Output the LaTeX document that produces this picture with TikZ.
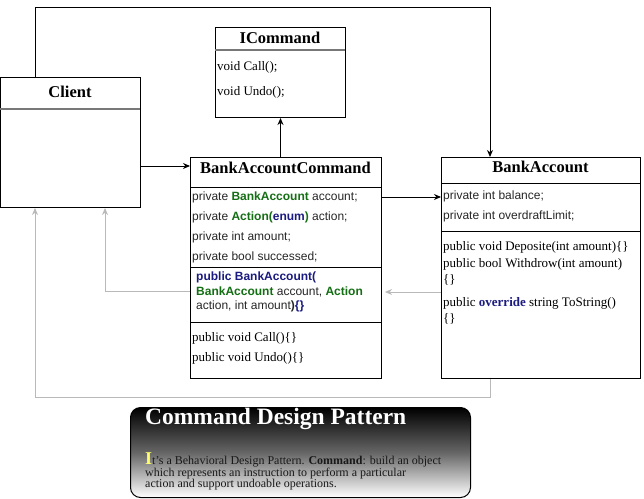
\documentclass[tikz,border=0pt]{standalone}
\usepackage{fontspec}
\setmainfont{Liberation Serif}
\setsansfont{Liberation Sans}
\usetikzlibrary{arrows.meta,calc}
\definecolor{kgreen}{RGB}{20,110,20}
\definecolor{knavy}{RGB}{26,26,128}
\definecolor{sepgray}{RGB}{120,120,120}
\definecolor{lgray}{RGB}{185,185,185}
\definecolor{kyellow}{RGB}{255,255,110}
\begin{document}
\begin{tikzpicture}[x=1pt,y=-1pt,
  box/.style={draw=black, line width=1pt, rectangle, anchor=north west, inner sep=0pt},
  hdr/.style={font=\fontsize{16.5}{16.5}\selectfont\bfseries, inner sep=0pt},
  satt/.style={font=\sffamily\fontsize{12}{12}\selectfont, anchor=west, inner sep=0pt, text=black!85},
  smeth/.style={font=\fontsize{13}{13}\selectfont, anchor=west, inner sep=0pt},
  sepl/.style={line width=1pt},
  hsep/.style={line width=1.8pt, draw=sepgray},
  arr/.style={line width=1pt, -{Stealth[length=7pt,width=6pt]}},
  garr/.style={line width=1pt, draw=lgray, -{Stealth[length=7pt,width=6pt]}},
  bodyt/.style={font=\fontsize{12}{12}\selectfont, anchor=base west, inner sep=0pt, text=black!90}
]
\useasboundingbox (0,0) rectangle (644,498);

% ICommand
\node[box, minimum width=130pt, minimum height=90pt] (icmd) at (215,27) {};
\node[hdr] (icmdh) at (280,38) {ICommand};
\draw[hsep] (215,50) -- (345,50);
\node[smeth] (ic1) at (217,67) {void Call();};
\node[smeth] (ic2) at (217,92) {void Undo();};

% Client
\node[box, minimum width=140pt, minimum height=130pt] (client) at (0,77) {};
\node[hdr] (clienth) at (70,92) {Client};
\draw[hsep] (0,109) -- (140,109);

% BankAccountCommand
\node[box, minimum width=191pt, minimum height=221pt] (bac) at (190,157) {};
\node[hdr] (bach) at (285.5,168) {BankAccountCommand};
\draw[sepl] (190,187) -- (381,187);
\node[satt] (b1) at (192,197) {private \textcolor{kgreen}{\bfseries BankAccount} account;};
\node[satt] (b2) at (192,217) {private \textcolor{kgreen}{\bfseries Action(}\textcolor{knavy}{\bfseries enum}\textcolor{kgreen}{\bfseries )} action;};
\node[satt] (b3) at (192,237) {private int amount;};
\node[satt] (b4) at (192,257) {private bool successed;};
\draw[sepl] (190,267) -- (381,267);
\node[satt] (b5) at (196,277) {\textcolor{knavy}{\bfseries public BankAccount(}};
\node[satt] (b6) at (196,292) {\textcolor{kgreen}{\bfseries BankAccount} account, \textcolor{kgreen}{\bfseries Action}};
\node[satt] (b7) at (196,306) {action, int amount\textbf{)}\textcolor{knavy}{\bfseries \{\}}};
\draw[sepl] (190,322) -- (381,322);
\node[smeth] (b8) at (192,338) {public void Call()\{\}};
\node[smeth] (b9) at (192,358) {public void Undo()\{\}};

% BankAccount
\node[box, minimum width=199pt, minimum height=221pt] (bacc) at (441,157) {};
\node[hdr] (bacch) at (540.5,167) {BankAccount};
\draw[sepl] (441,183) -- (640,183);
\node[satt] (a1) at (443,196) {private int balance;};
\node[satt] (a2) at (443,216) {private int overdraftLimit;};
\draw[sepl] (441,231) -- (640,231);
\node[smeth] (a3) at (443,247) {public void Deposite(int amount)\{\}};
\node[smeth] (a4) at (443,264) {public bool Withdrow(int amount)};
\node[smeth] (a5) at (443,280) {\{\}};
\node[smeth] (a6) at (443,303) {public \textcolor{knavy}{\bfseries override} string ToString()};
\node[smeth] (a7) at (443,319) {\{\}};

% connectors
\coordinate (t1) at (35,7);
\coordinate (t2) at (490,7);
\draw[arr] (client.north -| t1) -- (t1) -- (t2) -- (bacc.north -| t2);
\coordinate (y166) at (0,166);
\draw[arr] (client.east |- y166) -- (bac.west |- y166);
\draw[arr] (bac.north -| icmd.south) -- (icmd.south);
\coordinate (y197) at (0,197);
\draw[arr] (bac.east |- y197) -- (bacc.west |- y197);
\coordinate (y292) at (385,292);
\draw[garr] (bacc.west |- y292) -- (y292);
\coordinate (g1) at (105,291);
\draw[garr] (bac.west |- g1) -- (g1) -- (client.south -| g1);
\coordinate (d1) at (490,397);
\coordinate (d2) at (35,397);
\draw[garr] (bacc.south -| d1) -- (d1) -- (d2) -- (client.south -| d2);

% Note
\node[draw=black, line width=1pt, rounded corners=10pt, top color=black, bottom color=white, middle color=black!60,
      minimum width=340pt, minimum height=90pt, anchor=north west, inner sep=0pt] (note) at (130,407) {};
\node[font=\fontsize{23.5}{23.5}\selectfont\bfseries, text=white, anchor=base west, inner sep=0pt] (ntitle) at (145,424) {Command Design Pattern};
\node[bodyt] (n1) at (145,464) {\textcolor{kyellow}{\fontsize{18}{18}\selectfont\bfseries I}t's a Behavioral Design Pattern. \textbf{Command}: build an object};
\node[bodyt] (n2) at (145,476) {which represents an instruction to perform a particular};
\node[bodyt] (n3) at (145,487) {action and support undoable operations.};
\end{tikzpicture}
\end{document}
